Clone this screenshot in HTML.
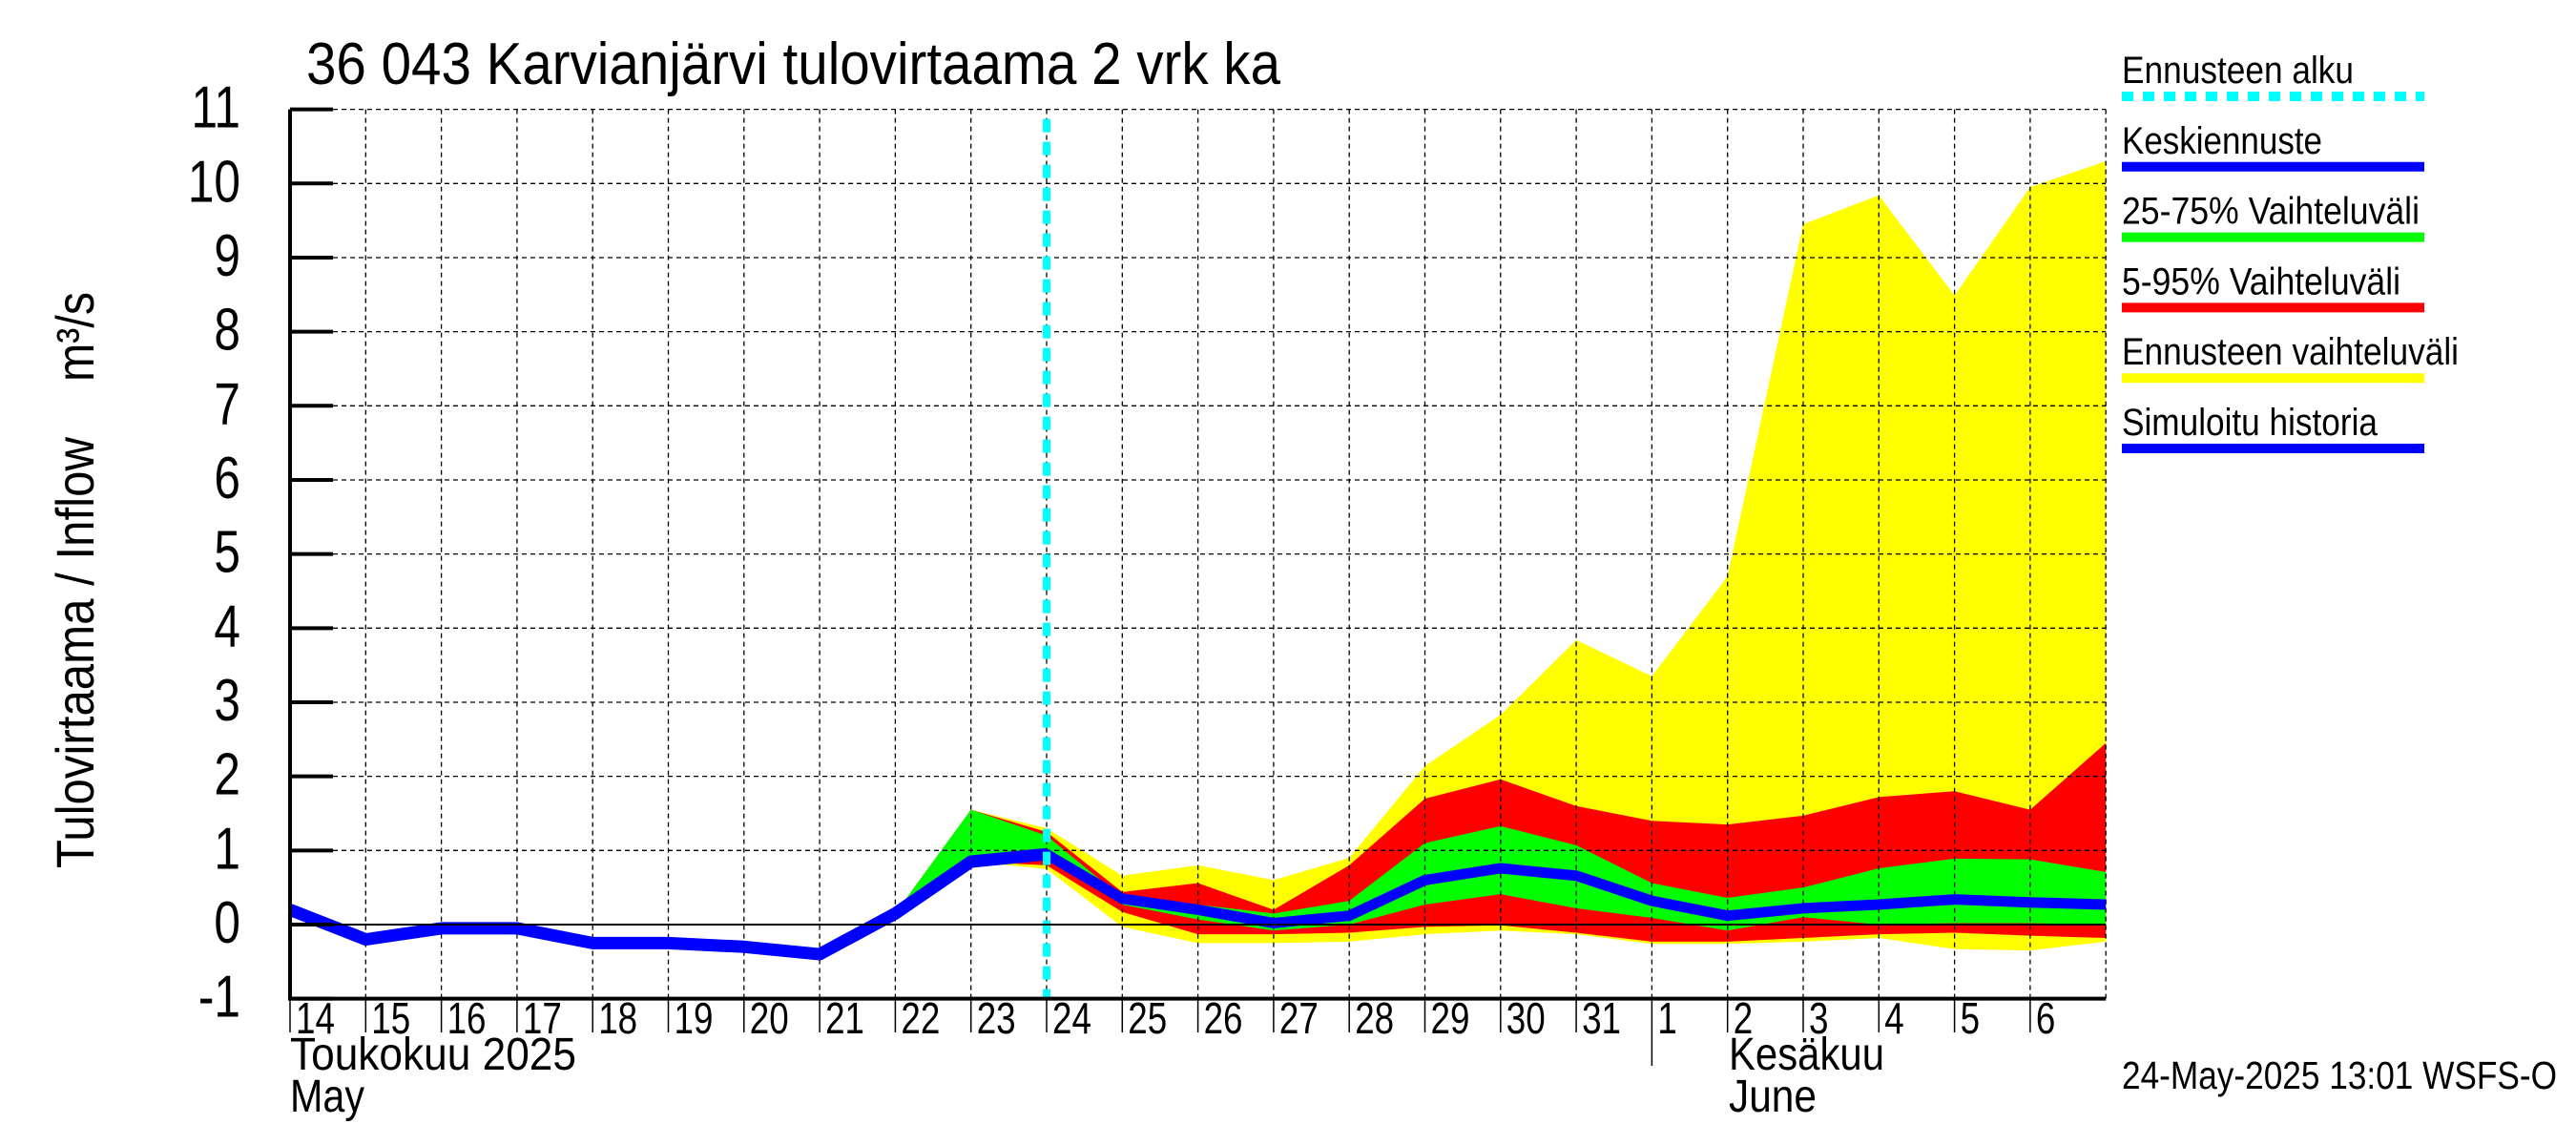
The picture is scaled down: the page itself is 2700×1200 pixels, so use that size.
<!DOCTYPE html>
<html><head><meta charset="utf-8"><style>
html,body{margin:0;padding:0;background:#fff}
svg{display:block}
text{font-family:"Liberation Sans",sans-serif;fill:#000}
</style></head><body>
<svg id="chart" width="2700" height="1200" viewBox="0 0 2700 1200" xmlns="http://www.w3.org/2000/svg">
<g id="fills"></g>
<g id="grid"></g>
<g id="lines"></g>
<g id="axes"></g>
<text x="321" y="88" font-size="62" textLength="1021" lengthAdjust="spacingAndGlyphs">36 043 Karvianjärvi tulovirtaama 2 vrk ka</text>
<text transform="translate(98,910) rotate(-90)" font-size="56" textLength="452" lengthAdjust="spacingAndGlyphs">Tulovirtaama / Inflow</text>
<text transform="translate(98,400) rotate(-90)" font-size="56" textLength="94" lengthAdjust="spacingAndGlyphs">m³/s</text>
<text x="304" y="1121" font-size="48" textLength="300" lengthAdjust="spacingAndGlyphs">Toukokuu  2025</text>
<text x="304" y="1165" font-size="48" textLength="78" lengthAdjust="spacingAndGlyphs">May</text>
<text x="1812" y="1121" font-size="48" textLength="163" lengthAdjust="spacingAndGlyphs">Kesäkuu</text>
<text x="1812" y="1165" font-size="48" textLength="92" lengthAdjust="spacingAndGlyphs">June</text>
<text x="2224" y="1141" font-size="41" textLength="456" lengthAdjust="spacingAndGlyphs">24-May-2025 13:01 WSFS-O</text>
<g id="legend"></g>
</svg>
<script>
const NS="http://www.w3.org/2000/svg";
const histDays=[0,1,2,3,4,5,6,7,8,9,10];
const histVals=[0.2,-0.2,-0.05,-0.05,-0.25,-0.25,-0.3,-0.4,0.15,0.85,0.95];
const fcDays=[8,9,10,11,12,13,14,15,16,17,18,19,20,21,22,23,24];
const median=[0.15,0.85,0.95,0.35,0.2,0.02,0.12,0.6,0.76,0.66,0.32,0.12,0.22,0.27,0.34,0.3,0.27];
const yelHi=[0.15,1.55,1.3,0.66,0.8,0.6,0.9,2.14,2.83,3.84,3.35,4.7,9.45,9.84,8.49,9.95,10.3];
const yelLo=[0.15,0.85,0.75,-0.03,-0.25,-0.25,-0.23,-0.13,-0.08,-0.13,-0.26,-0.26,-0.23,-0.18,-0.33,-0.35,-0.23];
const redHi=[0.15,1.55,1.25,0.44,0.56,0.2,0.8,1.7,1.96,1.6,1.4,1.35,1.47,1.72,1.8,1.55,2.45];
const redLo=[0.15,0.85,0.8,0.17,-0.13,-0.13,-0.11,-0.03,-0.01,-0.11,-0.23,-0.23,-0.18,-0.13,-0.11,-0.15,-0.18];
const grnHi=[0.15,1.55,1.2,0.36,0.27,0.15,0.32,1.1,1.33,1.07,0.56,0.36,0.5,0.76,0.89,0.88,0.71];
const grnLo=[0.15,0.85,0.9,0.27,0.07,-0.08,0,0.27,0.41,0.22,0.09,-0.08,0.1,0,0.02,0.02,0];
const yTicks=[-1,0,1,2,3,4,5,6,7,8,9,10,11];
const dayLabels=["14","15","16","17","18","19","20","21","22","23","24","25","26","27","28","29","30","31","1","2","3","4","5","6"];
const forecastStart=10;
const X0=304,DX=79.3,Y0=969,DY=77.67;
const xs=d=>X0+d*DX, ys=v=>Y0-v*DY;
function el(tag,attrs,parent){const e=document.createElementNS(NS,tag);for(const k in attrs)e.setAttribute(k,attrs[k]);parent.appendChild(e);return e;}
const fills=document.getElementById('fills'),grid=document.getElementById('grid'),lines=document.getElementById('lines'),axes=document.getElementById('axes'),legend=document.getElementById('legend');
function band(hi,lo,color,name){
  let p=fcDays.map((d,i)=>xs(d)+','+ys(hi[i]));
  for(let i=fcDays.length-1;i>=0;i--)p.push(xs(fcDays[i])+','+ys(lo[i]));
  const e=el('polygon',{points:p.join(' '),fill:color},fills);
  
  
}
band(yelHi,yelLo,'#ffff00','band-full-range');
band(redHi,redLo,'#ff0000','band-5-95');
band(grnHi,grnLo,'#00ff00','band-25-75');
const L=xs(0),R=xs(24),T=ys(11),B=ys(-1);
yTicks.forEach(v=>{
  if(v>-1){const g=el('line',{x1:L,x2:R,y1:ys(v),y2:ys(v),stroke:'#000','stroke-width':1.3,'stroke-dasharray':'5,4'},grid);
  
  }
  const t=el('line',{x1:L,x2:L+45,y1:ys(v),y2:ys(v),stroke:'#000','stroke-width':4},axes);
  
  
  const tx=el('text',{transform:`translate(${L-52},${ys(v)+19}) scale(0.8,1)`,'font-size':62,'text-anchor':'end'},axes);
  tx.textContent=v;
  
  
});
for(let d=1;d<=24;d++){
  const g=el('line',{x1:xs(d),x2:xs(d),y1:T,y2:B,stroke:'#000','stroke-width':1.3,'stroke-dasharray':'5,4'},grid);
  
  
}
const z=el('line',{x1:L,x2:R,y1:Y0,y2:Y0,stroke:'#000','stroke-width':2},axes);


dayLabels.forEach((lab,d)=>{
  const t=el('line',{x1:xs(d),x2:xs(d),y1:B,y2:d===18?1117:1082,stroke:'#000','stroke-width':1.5},axes);
  
  
  const tx=el('text',{transform:`translate(${xs(d)+6},1083) scale(0.8,1)`,'font-size':46},axes);
  tx.textContent=lab;
  
  
});
const ax=el('polyline',{points:`${L},${T} ${L},${B} ${R},${B}`,fill:'none',stroke:'#000','stroke-width':4},axes);


const h=el('polyline',{points:histDays.map((d,i)=>xs(d)+','+ys(histVals[i])).join(' '),fill:'none',stroke:'#0000ff','stroke-width':13,'stroke-linejoin':'round'},lines);


const m=el('polyline',{points:fcDays.map((d,i)=>xs(d)+','+ys(median[i])).join(' '),fill:'none',stroke:'#0000ff','stroke-width':11,'stroke-linejoin':'round'},lines);


const fs=el('line',{x1:xs(forecastStart),x2:xs(forecastStart),y1:T+10,y2:B,stroke:'#00ffff','stroke-width':8,'stroke-dasharray':'14,10'},lines);


const legLabels=["Ennusteen alku","Keskiennuste","25-75% Vaihteluväli","5-95% Vaihteluväli","Ennusteen vaihteluväli","Simuloitu historia"];
const legColors=["#00ffff","#0000ff","#00ff00","#ff0000","#ffff00","#0000ff"];
const legWidths=[243,210,312,292,353,268];
legLabels.forEach((lab,i)=>{
  const y=100+i*73.8;
  const tx=el('text',{x:2224,y:y-13,'font-size':40,textLength:legWidths[i],lengthAdjust:'spacingAndGlyphs'},legend);
  tx.textContent=lab;
  
  
  const ln=el('line',{x1:2224,x2:2541,y1:y+1,y2:y+1,stroke:legColors[i],'stroke-width':10},legend);
  if(i===0)ln.setAttribute('stroke-dasharray','12,10');
  
  
});
</script>
</body></html>
